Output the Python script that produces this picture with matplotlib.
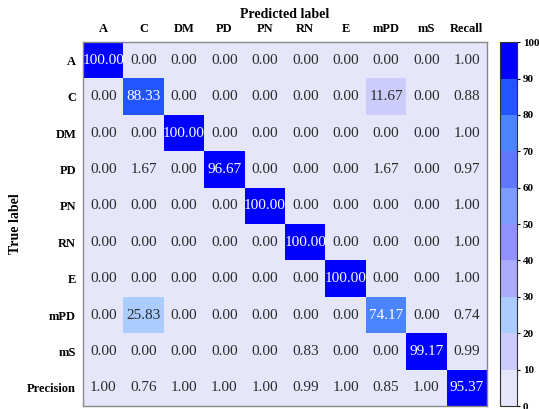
import numpy as np
import matplotlib
matplotlib.use("Agg")
import matplotlib.pyplot as plt
from matplotlib.colors import ListedColormap, BoundaryNorm

classes = ["A", "C", "DM", "PD", "PN", "RN", "E", "mPD", "mS"]
col_labels = classes + ["Recall"]
row_labels = classes + ["Precision"]

row_A = [100.00, 0.00, 0.00, 0.00, 0.00, 0.00, 0.00, 0.00, 0.00, 1.00]
row_C = [0.00, 88.33, 0.00, 0.00, 0.00, 0.00, 0.00, 11.67, 0.00, 0.88]
row_DM = [0.00, 0.00, 100.00, 0.00, 0.00, 0.00, 0.00, 0.00, 0.00, 1.00]
row_PD = [0.00, 1.67, 0.00, 96.67, 0.00, 0.00, 0.00, 1.67, 0.00, 0.97]
row_PN = [0.00, 0.00, 0.00, 0.00, 100.00, 0.00, 0.00, 0.00, 0.00, 1.00]
row_RN = [0.00, 0.00, 0.00, 0.00, 0.00, 100.00, 0.00, 0.00, 0.00, 1.00]
row_E = [0.00, 0.00, 0.00, 0.00, 0.00, 0.00, 100.00, 0.00, 0.00, 1.00]
row_mPD = [0.00, 25.83, 0.00, 0.00, 0.00, 0.00, 0.00, 74.17, 0.00, 0.74]
row_mS = [0.00, 0.00, 0.00, 0.00, 0.00, 0.83, 0.00, 0.00, 99.17, 0.99]
row_precision = [1.00, 0.76, 1.00, 1.00, 1.00, 0.99, 1.00, 0.85, 1.00, 95.37]

data = np.array([row_A, row_C, row_DM, row_PD, row_PN, row_RN, row_E,
                 row_mPD, row_mS, row_precision])

bin_colors = ["#e6e6fa", "#ccccfc", "#aaccff", "#aaaaff", "#9090ff",
              "#7b9bff", "#6077ff", "#4a84ff", "#2255ff", "#0000ff"]
bounds = np.arange(0, 101, 10)
cmap = ListedColormap(bin_colors)
norm = BoundaryNorm(bounds, cmap.N)

serif = ["Liberation Serif", "DejaVu Serif"]
plt.rcParams["font.family"] = serif

fig = plt.figure(figsize=(5.39, 4.09), dpi=100)
ax = fig.add_axes([0.154, 0.0073, 0.7495, 0.8897])
cax = fig.add_axes([0.928, 0.0073, 0.0315, 0.8897])

im = ax.imshow(data, cmap=cmap, norm=norm, aspect="auto")

n = data.shape[0]
for i in range(n):
    for j in range(n):
        v = data[i, j]
        color = "white" if v >= 70 else "#2a2a2a"
        ax.text(j, i, f"{v:.2f}", ha="center", va="center",
                fontsize=11, color=color)

ax.set_xticks(range(n))
ax.set_yticks(range(n))
ax.set_xticklabels(col_labels, fontsize=9, fontweight="bold")
ax.set_yticklabels(row_labels, fontsize=9, fontweight="bold")
ax.xaxis.tick_top()
ax.xaxis.set_label_position("top")
ax.tick_params(axis="x", length=0, pad=5)
ax.tick_params(axis="y", length=0, pad=5)
ax.set_xlabel("Predicted label", fontsize=10, fontweight="bold", labelpad=4)
ax.set_ylabel("True label", fontsize=10, fontweight="bold", labelpad=4)
for s in ax.spines.values():
    s.set_color("#888888")
    s.set_linewidth(1.0)

cb = fig.colorbar(im, cax=cax, ticks=bounds)
cb.ax.tick_params(labelsize=8, length=2.5, pad=1.5)
cb.outline.set_edgecolor("#333333")
for t in cb.ax.get_yticklabels():
    t.set_fontweight("bold")

fig.savefig("out.png", dpi=100)
